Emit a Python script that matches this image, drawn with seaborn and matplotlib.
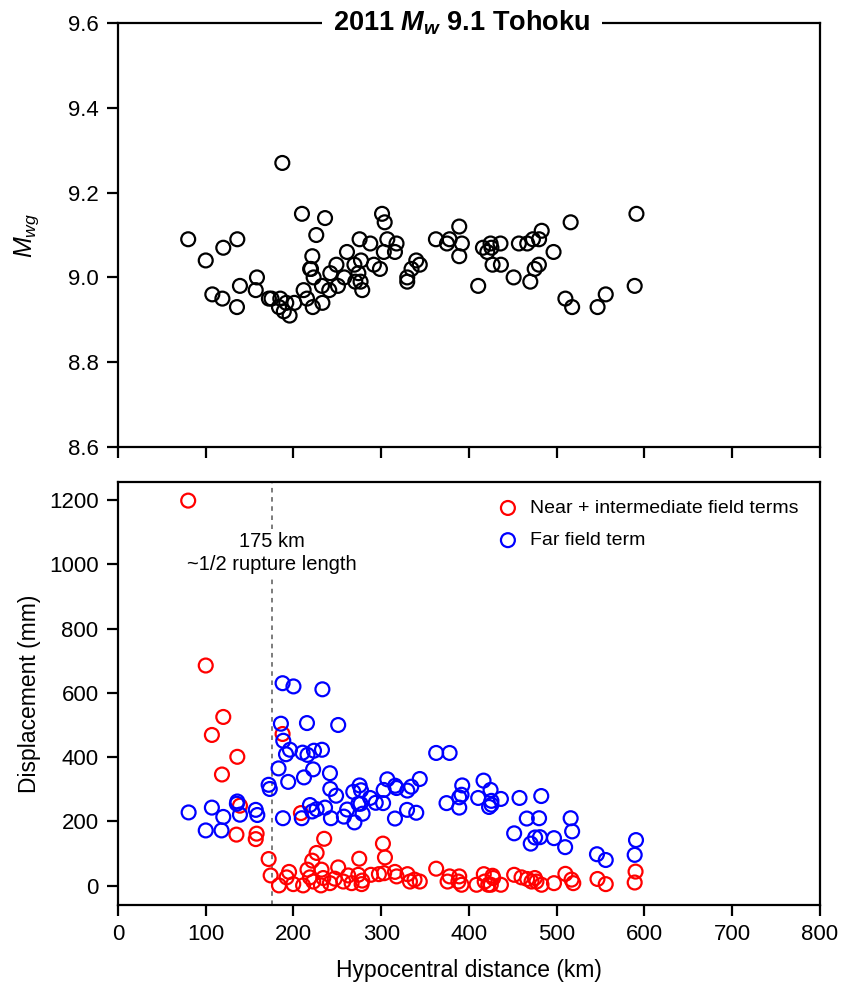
import matplotlib
matplotlib.use("Agg")
import matplotlib.pyplot as plt
import seaborn as sns

# station distances (km) and Mwg estimates, top panel
dist_mwg = [80, 100, 107.5, 119, 120, 136, 135.6, 139, 157, 158.4, 172, 175, 183.5, 185,
            187.3, 189, 191.8, 195.6, 201, 209.7, 211.6, 215.4, 219, 220, 221.5, 222, 223,
            226, 232.5, 233, 236, 240.8, 242, 249, 250.7, 258, 261, 269.5, 270.5, 274,
            275.4, 276.5, 277, 278.4, 287.6, 291.7, 301, 298.6, 304, 303, 307, 315.7,
            317.5, 329.7, 329.7, 334.6, 340, 344, 362.4, 375, 378, 389, 389, 392, 410.6,
            416, 421, 424.7, 425.7, 427, 436, 436.5, 451, 457, 466.5, 470, 473, 475, 479.8,
            480, 483, 496.5, 510, 516, 517.7, 546.7, 556, 589, 591]
mwg = [9.09, 9.04, 8.96, 8.95, 9.07, 9.09, 8.93, 8.98, 8.97, 9.00, 8.95, 8.95, 8.93, 8.95,
       9.27, 8.92, 8.94, 8.91, 8.94, 9.15, 8.97, 8.95, 9.02, 9.02, 9.05, 8.93, 9.00,
       9.10, 8.98, 8.94, 9.14, 8.97, 9.01, 9.03, 8.98, 9.00, 9.06, 9.03, 8.99, 9.01,
       9.09, 8.99, 9.04, 8.97, 9.08, 9.03, 9.15, 9.02, 9.13, 9.06, 9.09, 9.06,
       9.08, 9.00, 8.99, 9.02, 9.04, 9.03, 9.09, 9.08, 9.09, 9.12, 9.05, 9.08, 8.98,
       9.07, 9.06, 9.08, 9.07, 9.03, 9.08, 9.03, 9.00, 9.08, 9.08, 8.99, 9.09, 9.02, 9.03,
       9.09, 9.11, 9.06, 8.95, 9.13, 8.93, 8.93, 8.96, 8.98, 9.15]

# near + intermediate field displacement (mm)
dist_near = [80, 100, 107, 118.5, 120, 135, 136, 139, 157, 158, 171.7, 174, 183.5, 187.6,
             192.2, 195, 199.8, 208.5, 211, 216, 218.8, 221.4, 222.6, 226.4, 231.3, 232,
             234, 235, 241.6, 247, 251, 256.8, 262.5, 266.3, 273.9, 275, 277.7, 278.4,
             288.3, 297.4, 302, 303.4, 304.3, 315.7, 317.6, 330, 332.8, 338, 344, 362.7,
             375.7, 378, 388, 389, 391.6, 408.7, 417, 418, 422, 425, 427, 427.7, 436.5,
             451.6, 460, 466.5, 471.4, 475.2, 477, 482.8, 497, 510, 517, 519, 546.6, 556,
             589, 590]
near = [1198, 685, 469, 346, 525, 159, 401, 249, 145, 162, 83, 32, 1, 472,
        26, 43, 5, 226, 1, 50, 26, 78, 13, 102, 1, 50,
        24, 146, 8, 22, 57, 13, 32, 8, 34, 84, 5, 16,
        34, 36, 131, 39, 88, 43, 29, 36, 13, 19, 13, 53,
        13, 29, 13, 29, 3, 3, 36, 13, 3, 3, 31, 24, 3,
        34, 26, 21, 13, 24, 13, 3, 8, 37, 19, 8, 21, 5,
        10, 44]

# far field displacement (mm)
dist_far = [80.5, 100, 107, 118, 120, 135.5, 136, 139, 157, 158.8, 171.7, 173, 183, 185.7,
            187.6, 188.4, 188, 191.5, 194, 196, 200, 209.5, 210.4, 212, 215.4, 216, 218.8,
            221.4, 222.4, 223.4, 226.4, 232.5, 233, 236, 241.6, 242, 242.7, 248.6, 251,
            257.5, 261.2, 268.2, 269.5, 274, 275.4, 276.5, 277, 278.8, 287.4, 293.8, 302.2,
            302.8, 307, 315.7, 316, 317.5, 329.5, 329.8, 334.3, 340, 344, 362.7, 374.5,
            378, 389, 389, 391.6, 392.4, 410.6, 416.7, 423, 424.7, 425.7, 425.7, 436.5,
            451.6, 457.7, 466, 470.5, 475.5, 480, 481, 482.5, 497, 509.7, 516, 517.7, 546,
            556, 589, 590.5]
far = [228, 172, 243, 172, 214, 255, 262, 221, 236, 220, 314, 301, 365, 504,
       630, 451, 210, 409, 323, 423, 620, 210, 414, 337, 506, 407, 251,
       231, 362, 420, 238, 423, 611, 243, 350, 301, 210, 280, 500,
       215, 237, 292, 197, 255, 312, 255, 297, 224, 273, 258, 257,
       298, 331, 209, 311, 304, 236, 296, 308, 227, 332, 413, 257,
       413, 275, 243, 283, 312, 273, 327, 245, 298, 264, 252, 270,
       163, 273, 209, 131, 150, 210, 151, 279, 148, 120, 210, 169, 98,
       80, 96, 142]

sns.set_style("ticks")
plt.rcParams['font.family'] = ['Liberation Sans', 'DejaVu Sans']
plt.rcParams['text.color'] = 'black'
plt.rcParams['axes.labelcolor'] = 'black'
plt.rcParams['mathtext.fontset'] = 'custom'
plt.rcParams['mathtext.rm'] = 'Liberation Sans'
plt.rcParams['mathtext.it'] = 'Liberation Sans:italic'
plt.rcParams['mathtext.bf'] = 'Liberation Sans:bold'
plt.rcParams['mathtext.bfit'] = 'Liberation Sans:italic:bold'

fig = plt.figure(figsize=(8.46, 9.85), dpi=100)
ax1 = fig.add_axes([0.1395, 0.5462, 0.8295, 0.4304])
ax2 = fig.add_axes([0.1395, 0.0812, 0.8295, 0.4295])

mk = dict(marker='o', s=100, linewidth=1.6)

# top panel
sns.scatterplot(x=dist_mwg, y=mwg, ax=ax1, facecolor='none', edgecolor='black', **mk)
ax1.set_xlim(0, 800)
ax1.set_ylim(8.6, 9.6)
ax1.set_yticks([8.6, 8.8, 9.0, 9.2, 9.4, 9.6])
ax1.set_yticklabels(['8.6', '8.8', '9.0', '9.2', '9.4', '9.6'])
ax1.set_xticks(range(0, 801, 100))
ax1.set_xticklabels([])
ax1.set_ylabel(r'$M_{wg}$', fontsize=18)
ax1.text(0.49, 1.0, r'2011 $\mathbfit{M}_{\mathbfit{w}}$ 9.1 Tohoku', transform=ax1.transAxes,
         ha='center', va='center', fontsize=19.5, fontweight='bold', zorder=10,
         bbox=dict(facecolor='white', edgecolor='none', pad=8), clip_on=False)

# bottom panel
ax2.axvline(175, color='0.35', linestyle=(0, (3, 3)), linewidth=1.1, zorder=0)
sns.scatterplot(x=dist_near, y=near, ax=ax2, facecolor='none', edgecolor='red',
                label='Near + intermediate field terms', **mk)
sns.scatterplot(x=dist_far, y=far, ax=ax2, facecolor='none', edgecolor='blue',
                label='Far field term', **mk)
ax2.text(175, 1035, '175 km\n~1/2 rupture length', ha='center', va='center', fontsize=14.5,
         linespacing=1.25, bbox=dict(facecolor='white', edgecolor='none', pad=2), zorder=3)
ax2.set_xlim(0, 800)
ax2.set_ylim(-60, 1256)
ax2.set_xticks(range(0, 801, 100))
ax2.set_yticks(range(0, 1201, 200))
ax2.set_xlabel('Hypocentral distance (km)', fontsize=16.5, labelpad=10)
ax2.set_ylabel('Displacement (mm)', fontsize=16.5)
ax2.legend(loc='upper right', frameon=False, fontsize=14, handletextpad=0.15,
           borderaxespad=0.5, labelspacing=0.75, bbox_to_anchor=(0.995, 1.0))

for ax in (ax1, ax2):
    for sp in ax.spines.values():
        sp.set_linewidth(1.6)
        sp.set_color('black')
    ax.tick_params(direction='out', length=8, width=1.6, pad=6, labelsize=16, colors='black')
    ax.yaxis.set_label_coords(-0.11, 0.5)

fig.savefig('out.png', dpi=100)
